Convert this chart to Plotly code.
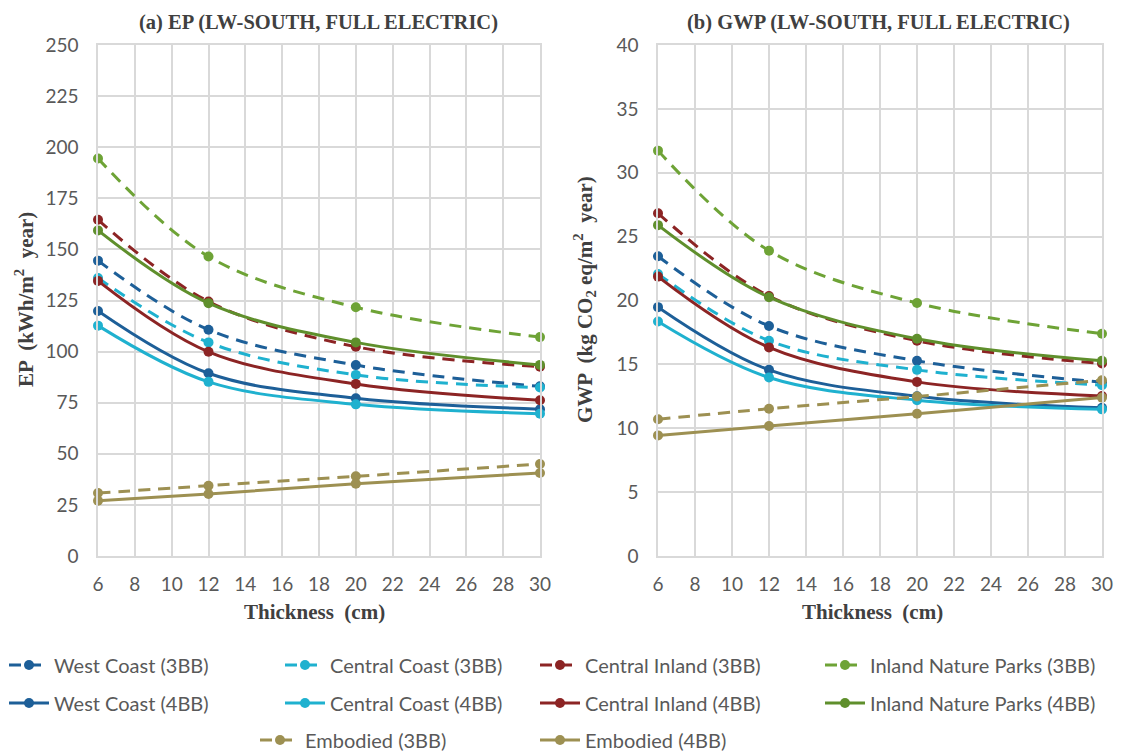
import plotly.graph_objects as go

# Insulation thickness (cm)
thickness = [6, 12, 20, 30]

# EP, kWh/m2 year
ep_wc_3bb = [144.5, 110.7, 93.4, 83.0]
ep_cc_3bb = [136.0, 104.5, 88.6, 82.4]
ep_ci_3bb = [164.5, 124.5, 102.4, 92.6]
ep_inp_3bb = [194.5, 146.5, 121.7, 107.1]
ep_wc_4bb = [119.9, 89.4, 77.2, 71.8]
ep_cc_4bb = [112.7, 85.2, 74.2, 69.6]
ep_ci_4bb = [134.6, 99.9, 84.2, 76.2]
ep_inp_4bb = [159.3, 123.7, 104.5, 93.5]
ep_emb_3bb = [30.8, 34.4, 39.0, 45.0]
ep_emb_4bb = [27.0, 30.3, 35.4, 40.6]

# GWP, kg CO2 eq/m2 year
gwp_wc_3bb = [23.46, 18.0, 15.28, 13.6]
gwp_cc_3bb = [22.08, 16.85, 14.57, 13.37]
gwp_ci_3bb = [26.83, 20.35, 16.85, 15.07]
gwp_inp_3bb = [31.73, 23.9, 19.8, 17.4]
gwp_wc_4bb = [19.48, 14.57, 12.5, 11.6]
gwp_cc_4bb = [18.35, 13.97, 12.2, 11.48]
gwp_ci_4bb = [21.87, 16.33, 13.63, 12.53]
gwp_inp_4bb = [25.9, 20.26, 17.0, 15.28]
gwp_emb_3bb = [10.7, 11.53, 12.48, 13.76]
gwp_emb_4bb = [9.44, 10.17, 11.14, 12.4]

x_ticks = list(range(6, 31, 2))
ep_ticks = list(range(0, 251, 25))
gwp_ticks = list(range(0, 41, 5))

C_WC = "#1d5f98"
C_CC = "#1fb1cf"
C_CI = "#8c2424"
C_INP3 = "#6ea336"
C_INP4 = "#5f8f2c"
C_EMB = "#9d9052"

DASH = "12px,8px"

W, H = 1121, 751

# (name, color, dash, ep values, gwp values, legend left px, legend row centre px)
series = [
    ("West Coast (3BB)", C_WC, DASH, ep_wc_3bb, gwp_wc_3bb, 4, 665),
    ("Central Coast (3BB)", C_CC, DASH, ep_cc_3bb, gwp_cc_3bb, 280, 665),
    ("Central Inland (3BB)", C_CI, DASH, ep_ci_3bb, gwp_ci_3bb, 535, 665),
    ("Inland Nature Parks (3BB)", C_INP3, DASH, ep_inp_3bb, gwp_inp_3bb, 820, 665),
    ("West Coast (4BB)", C_WC, "solid", ep_wc_4bb, gwp_wc_4bb, 4, 703),
    ("Central Coast (4BB)", C_CC, "solid", ep_cc_4bb, gwp_cc_4bb, 280, 703),
    ("Central Inland (4BB)", C_CI, "solid", ep_ci_4bb, gwp_ci_4bb, 535, 703),
    ("Inland Nature Parks (4BB)", C_INP4, "solid", ep_inp_4bb, gwp_inp_4bb, 820, 703),
    ("Embodied (3BB)", C_EMB, DASH, ep_emb_3bb, gwp_emb_3bb, 255, 740),
    ("Embodied (4BB)", C_EMB, "solid", ep_emb_4bb, gwp_emb_4bb, 535, 740),
]


def px_x(p):
    return p / W


def px_y(p):
    return 1 - p / H


legend_font = dict(family="Lato, Liberation Sans, sans-serif", size=20, color="#595959")
legend_layouts = {}

fig = go.Figure()
for i, (name, color, dash, ep_vals, gwp_vals, lx, ly) in enumerate(series):
    leg = "legend" if i == 0 else f"legend{i + 1}"
    legend_layouts[leg] = dict(
        x=px_x(lx), y=px_y(ly), xanchor="left", yanchor="middle",
        orientation="h", font=legend_font, bgcolor="rgba(0,0,0,0)",
        itemwidth=40, itemclick=False, itemdoubleclick=False,
    )
    common = dict(
        mode="lines+markers",
        line=dict(color=color, width=3, dash=dash, shape="spline", smoothing=1),
        marker=dict(color=color, size=10, symbol="circle"),
        cliponaxis=False,
        name=name,
        legendgroup=name,
    )
    fig.add_trace(go.Scatter(x=thickness, y=ep_vals, xaxis="x", yaxis="y",
                             showlegend=True, legend=leg, **common))
    fig.add_trace(go.Scatter(x=thickness, y=gwp_vals, xaxis="x2", yaxis="y2",
                             showlegend=False, **common))

GRID = "#d9d9d9"
TICK_FONT = dict(family="Lato, Liberation Sans, sans-serif", size=19, color="#595959")
HEAD_FONT = dict(family="Liberation Serif, serif", size=20.5, color="#404040")
AXIS_TITLE_FONT = dict(family="Liberation Serif, serif", size=21, color="#404040")

axis_common = dict(
    showgrid=True, gridcolor=GRID, gridwidth=1.5,
    showline=True, linecolor=GRID, linewidth=1.5, mirror=True,
    zeroline=False, ticks="", tickfont=TICK_FONT,
)

fig.update_layout(
    width=W, height=H,
    margin=dict(l=0, r=0, t=0, b=0, autoexpand=False),
    paper_bgcolor="white", plot_bgcolor="white",
    xaxis=dict(domain=[px_x(98), px_x(540)], range=[6, 30], tickvals=x_ticks,
               anchor="y", ticklabelstandoff=10, **axis_common),
    yaxis=dict(domain=[px_y(556), px_y(45)], range=[0, 250], tickvals=ep_ticks,
               anchor="x", ticklabelstandoff=14, **axis_common),
    xaxis2=dict(domain=[px_x(658), px_x(1102)], range=[6, 30], tickvals=x_ticks,
                anchor="y2", ticklabelstandoff=10, **axis_common),
    yaxis2=dict(domain=[px_y(556), px_y(45)], range=[0, 40], tickvals=gwp_ticks,
                anchor="x2", ticklabelstandoff=14, **axis_common),
    **legend_layouts,
)

annotations = [
    dict(text="<b>(a) EP (LW-SOUTH, FULL ELECTRIC)</b>", x=px_x(318), y=px_y(22), font=HEAD_FONT),
    dict(text="<b>(b) GWP (LW-SOUTH, FULL ELECTRIC)</b>", x=px_x(878), y=px_y(22), font=HEAD_FONT),
    dict(text="<b>Thickness  (cm)</b>", x=px_x(314), y=px_y(612), font=AXIS_TITLE_FONT),
    dict(text="<b>Thickness  (cm)</b>", x=px_x(872), y=px_y(612), font=AXIS_TITLE_FONT),
    dict(text="<b>EP  (kWh/m<sup>2</sup>  year)</b>", x=px_x(25), y=px_y(300), textangle=-90,
         font=AXIS_TITLE_FONT),
    dict(text="<b>GWP  (kg CO<sub>2</sub> eq/m<sup>2</sup>  year)</b>", x=px_x(585), y=px_y(300),
         textangle=-90, font=AXIS_TITLE_FONT),
]
for a in annotations:
    a.update(xref="paper", yref="paper", showarrow=False,
             xanchor="center", yanchor="middle")
fig.update_layout(annotations=annotations)

fig.write_html("out.html")
